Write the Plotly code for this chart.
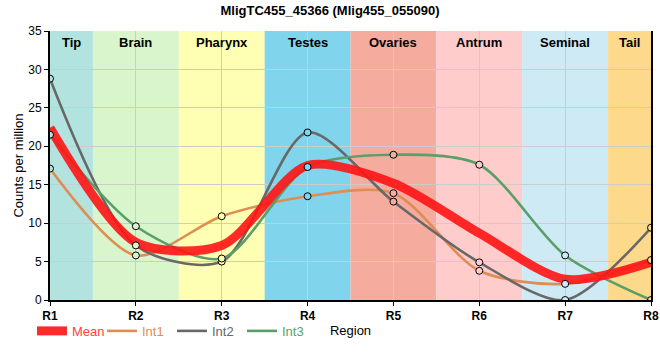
import plotly.graph_objects as go

# ---- data ----
regions = ["R1", "R2", "R3", "R4", "R5", "R6", "R7", "R8"]
band_names = ["Tip", "Brain", "Pharynx", "Testes", "Ovaries", "Antrum", "Seminal", "Tail"]
band_colors = ["#b3e3df", "#d8f5cc", "#ffffb3", "#80d4eb", "#f5ac9f", "#ffcccc", "#cdeaf5", "#fdd98b"]

mean_vals = [22.4, 7.5, 7.1, 17.5, 15.2, 8.7, 2.7, 4.9]
int1_vals = [17.1, 5.8, 10.9, 13.5, 13.9, 3.8, 2.1, 5.2]
int2_vals = [28.8, 7.1, 5.0, 21.8, 12.8, 4.9, 0.0, 9.4]
int3_vals = [21.5, 9.6, 5.4, 17.3, 18.9, 17.6, 5.8, 0.0]

series = [
    ("Int1", int1_vals, "#df8d52"),
    ("Int2", int2_vals, "#686868"),
    ("Int3", int3_vals, "#5a9e68"),
]
mean_color = "rgba(255,20,20,0.9)"

FONT = "Liberation Sans, Arial, sans-serif"
xs = list(range(1, len(regions) + 1))
SMOOTH = 0.8
W, H = 660, 360

fig = go.Figure()

# interval lines
for i, (name, vals, col) in enumerate(series):
    fig.add_trace(go.Scatter(
        x=xs, y=vals, mode="lines", name=f"<span style='color:{col}'>{name}</span>",
        line=dict(color=col, width=2.6, shape="spline", smoothing=SMOOTH),
        legendrank=2 + i, hoverinfo="skip",
    ))

# mean line
fig.add_trace(go.Scatter(
    x=xs, y=mean_vals, mode="lines", name="<span style='color:#ff4040'>Mean</span>",
    line=dict(color=mean_color, width=9, shape="spline", smoothing=SMOOTH),
    legendrank=1, hoverinfo="skip",
))

# markers on top
for name, vals, col in series:
    fig.add_trace(go.Scatter(
        x=xs, y=vals, mode="markers", showlegend=False, hoverinfo="skip",
        marker=dict(size=7, color=band_colors, line=dict(color="black", width=1)),
    ))

# region bands + labels
shapes = []
annotations = []
lo, hi = xs[0], xs[-1]
for i, (bn, bc) in enumerate(zip(band_names, band_colors)):
    x0 = max(xs[i] - 0.5, lo)
    x1 = min(xs[i] + 0.5, hi)
    shapes.append(dict(type="rect", xref="x", yref="paper", x0=x0, x1=x1, y0=0, y1=1,
                       fillcolor=bc, line=dict(width=0), layer="below"))
    annotations.append(dict(x=(x0 + x1) / 2, y=0.958, xref="x", yref="paper",
                            text=f"<b>{bn}</b>", showarrow=False,
                            font=dict(size=13, color="black", family=FONT),
                            xanchor="center", yanchor="middle"))

fig.update_layout(
    width=W, height=H,
    margin=dict(l=50, r=9, t=31, b=60, autoexpand=False),
    paper_bgcolor="white", plot_bgcolor="white",
    font=dict(family=FONT, size=12, color="black"),
    title=dict(text="<b>MligTC455_45366 (Mlig455_055090)</b>", x=330 / W,
               xanchor="center", xref="container",
               y=1 - 10 / H, yanchor="middle", yref="container",
               font=dict(size=13, family=FONT), automargin=False),
    shapes=shapes, annotations=annotations,
    showlegend=True,
    legend=dict(orientation="h", x=-0.03, xanchor="left", y=-0.115, yanchor="middle",
                font=dict(size=13, family=FONT), bgcolor="rgba(0,0,0,0)",
                itemwidth=30, entrywidth=25, entrywidthmode="pixels"),
)

fig.update_xaxes(
    range=[lo, hi], tickmode="array", tickvals=xs, ticktext=regions,
    tickfont=dict(size=12, weight="bold"),
    showgrid=True, gridcolor="#cccccc", gridwidth=1,
    showline=True, linecolor="black", linewidth=2,
    ticks="outside", ticklen=4, tickcolor="black",
    title=dict(text="Region", font=dict(size=13), standoff=3),
    zeroline=False, automargin=False,
)
fig.update_yaxes(
    range=[0, 35], dtick=5,
    showgrid=True, gridcolor="#cccccc", gridwidth=1,
    showline=True, linecolor="black", linewidth=2, mirror=True,
    ticks="outside", ticklen=4, tickcolor="black",
    title=dict(text="Counts per million", font=dict(size=13), standoff=2),
    zeroline=False, automargin=False,
)

# remove the default page margin so the 660x360 figure fills the window exactly
fig.write_html(
    "out.html",
    config={"displayModeBar": False},
    post_script="document.body.style.margin='0';document.body.style.overflow='hidden';",
)
